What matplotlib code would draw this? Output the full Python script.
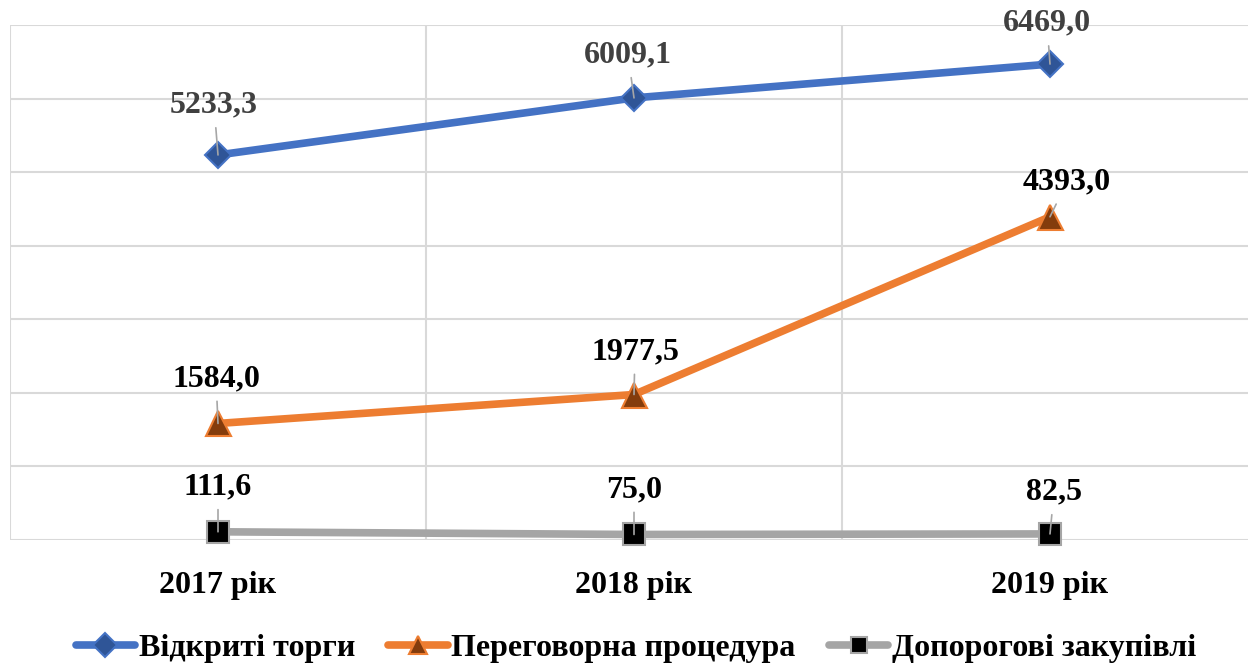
import matplotlib
matplotlib.use("Agg")
import matplotlib.pyplot as plt

categories = ["2017 рік", "2018 рік", "2019 рік"]
open_tenders = [5233.3, 6009.1, 6469.0]
negotiation = [1584.0, 1977.5, 4393.0]
below_threshold = [111.6, 75.0, 82.5]
series_names = ["Відкриті торги", "Переговорна процедура", "Допорогові закупівлі"]

plt.rcParams['font.family'] = ['Liberation Serif', 'DejaVu Serif']
FS = 23

fig = plt.figure(figsize=(12.48, 6.66), dpi=100)
ax = fig.add_axes([10/1248, 126/666, 1248/1248, 515/666])

x = list(range(len(categories)))
styles = [
    dict(color='#4472C4', marker='D', mfc='#2F5597', mec='#4472C4', ms=13, lab='#404040', lms=12),
    dict(color='#ED7D31', marker='^', mfc='#843C0C', mec='#ED7D31', ms=18, lab='black', lms=13),
    dict(color='#A5A5A5', marker='s', mfc='black', mec='#A5A5A5', ms=16, lab='black', lms=12),
]
offsets = [
    [(-4, 50), (-6, 43), (-3, 41)],
    [(-2, 45), (1, 43), (17, 35)],
    [(0, 45), (0, 45), (4, 42)],
]
data = [open_tenders, negotiation, below_threshold]
for vals, st, name, offs in zip(data, styles, series_names, offsets):
    ax.plot(x, vals, color=st['color'], lw=5.5, marker=st['marker'], mfc=st['mfc'],
            mec=st['mec'], mew=1.5, ms=st['ms'], solid_capstyle='round',
            label=name, zorder=3, clip_on=False)
    for xi, v, (dx, dy) in zip(x, vals, offs):
        ax.annotate(f"{v:.1f}".replace('.', ','), xy=(xi, v), xytext=(dx, dy),
                    textcoords='offset pixels', ha='center', va='center',
                    fontsize=FS, fontweight='bold', color=st['lab'],
                    arrowprops=dict(arrowstyle='-', color='#A6A6A6', lw=1.2,
                                    shrinkA=4, shrinkB=0), zorder=4)

ax.set_xlim(-0.5, 2.5)
ax.set_ylim(0, 7000)
ax.set_yticks(range(0, 7001, 1000))
ax.set_xticks(x)
ax.set_xticklabels(categories, fontsize=FS, fontweight='bold')
ax.set_xticks([-0.5, 0.5, 1.5], minor=True)
ax.tick_params(axis='y', left=False, labelleft=False)
ax.tick_params(axis='x', which='both', length=0, pad=22)
ax.grid(axis='y', color='#D9D9D9', lw=1.5)
ax.grid(axis='x', which='minor', color='#D9D9D9', lw=1.5)
for s in ax.spines.values():
    s.set_visible(False)
ax.set_axisbelow(True)

leg = fig.legend(loc='center', bbox_to_anchor=(636/1248, 1 - 648/666), ncol=3, frameon=False,
                 prop=dict(size=FS, weight='bold'), handlelength=1.85, handletextpad=0.12,
                 columnspacing=1.05)
for h, st in zip(leg.legend_handles, styles):
    h.set_markersize(st['lms'])

fig.savefig("out.png", dpi=100)
